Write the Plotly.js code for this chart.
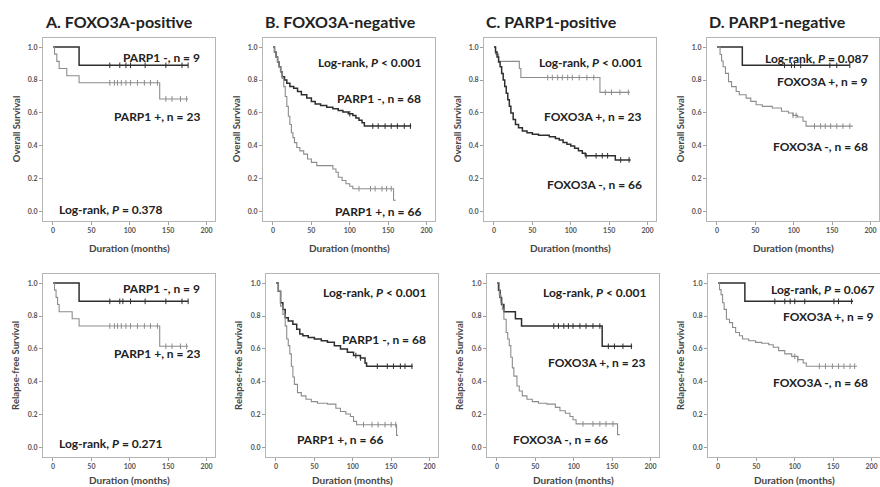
<!DOCTYPE html>
<html><head><meta charset="utf-8">
<script src="https://cdn.plot.ly/plotly-3.0.1.min.js"></script>
<style>html,body{margin:0;padding:0;background:#fff}#chart{width:880px;height:487px}</style>
</head><body><div id="chart"></div>
<script>
// ---------- Data ----------
// Panel titles
const panelTitles = ["A. FOXO3A-positive", "B. FOXO3A-negative", "C. PARP1-positive", "D. PARP1-negative"];
const xTicks = [0, 50, 100, 150, 200];
const yTicks = [0, 0.2, 0.4, 0.6, 0.8, 1.0];

// Top row: Overall Survival
// A: FOXO3A-positive
const osA_dark_t = [0, 34, 176];
const osA_dark_s = [1, 0.889, 0.889];
const osA_dark_c = [74, 87, 95, 101, 120, 147, 168, 176];
const osA_light_t = [0, 2, 5, 8, 18, 34, 139, 176];
const osA_light_s = [1, 0.957, 0.913, 0.870, 0.826, 0.783, 0.685, 0.685];
const osA_light_c = [74, 80, 84, 89, 95, 101, 110, 119, 127, 136, 147, 155, 166, 174];
// B: FOXO3A-negative
const osB_dark_t = [0, 2, 4, 6, 8, 10, 12, 15, 18, 22, 27, 32, 37, 44, 50, 55, 62, 70, 78, 85, 91, 98, 104, 108, 112, 116, 119, 180];
const osB_dark_s = [1, 0.97, 0.94, 0.91, 0.88, 0.85, 0.82, 0.80, 0.78, 0.76, 0.75, 0.73, 0.71, 0.69, 0.67, 0.655, 0.645, 0.635, 0.625, 0.615, 0.605, 0.595, 0.585, 0.57, 0.555, 0.54, 0.52, 0.52];
const osB_dark_c = [100, 130, 137, 146, 154, 162, 171, 179];
const osB_light_t = [0, 2, 4, 6, 8, 10, 12, 14, 16, 18, 20, 22, 24, 26, 28, 31, 35, 40, 45, 50, 57, 78, 82, 85, 90, 95, 100, 104, 157, 160];
const osB_light_s = [1, 0.97, 0.94, 0.91, 0.88, 0.85, 0.81, 0.76, 0.70, 0.64, 0.58, 0.53, 0.48, 0.45, 0.42, 0.39, 0.37, 0.35, 0.32, 0.30, 0.28, 0.26, 0.24, 0.21, 0.19, 0.17, 0.155, 0.14, 0.07, 0.07];
const osB_light_c = [112, 127, 133, 142, 148, 154];
// C: PARP1-positive
const osC_light_t = [0, 2, 6, 33, 35, 138, 177];
const osC_light_s = [1, 0.957, 0.913, 0.87, 0.815, 0.725, 0.725];
const osC_light_c = [70, 76, 83, 89, 96, 102, 111, 121, 130, 145, 153, 164, 175];
const osC_dark_t = [0, 2, 4, 6, 8, 10, 12, 14, 16, 18, 20, 22, 25, 28, 32, 37, 43, 50, 58, 72, 80, 85, 90, 95, 100, 105, 110, 115, 119, 158, 178];
const osC_dark_s = [1, 0.97, 0.94, 0.91, 0.88, 0.84, 0.80, 0.76, 0.72, 0.68, 0.64, 0.60, 0.56, 0.53, 0.51, 0.49, 0.48, 0.47, 0.465, 0.455, 0.445, 0.435, 0.42, 0.41, 0.40, 0.385, 0.37, 0.355, 0.34, 0.315, 0.315];
const osC_dark_c = [120, 133, 141, 148, 165, 176];
// D: PARP1-negative
const osD_dark_t = [0, 33, 173];
const osD_dark_s = [1, 0.889, 0.889];
const osD_dark_c = [88, 97, 101, 109, 147, 156, 173];
const osD_light_t = [0, 4, 6, 8, 11, 15, 19, 25, 29, 38, 44, 51, 59, 72, 84, 93, 99, 105, 112, 116, 177];
const osD_light_s = [1, 0.955, 0.915, 0.88, 0.84, 0.79, 0.76, 0.73, 0.71, 0.69, 0.67, 0.65, 0.64, 0.63, 0.61, 0.60, 0.585, 0.575, 0.55, 0.52, 0.52];
const osD_light_c = [99, 103, 127, 135, 141, 148, 156, 164, 173];

// Bottom row: Relapse-free Survival
const rfsA_dark_t = [0, 34, 176];
const rfsA_dark_s = [1, 0.889, 0.889];
const rfsA_dark_c = [74, 87, 91, 101, 120, 147, 168, 176];
const rfsA_light_t = [0, 2, 4, 6, 8, 25, 34, 139, 176];
const rfsA_light_s = [1, 0.957, 0.913, 0.870, 0.826, 0.783, 0.739, 0.616, 0.616];
const rfsA_light_c = [74, 80, 84, 89, 95, 101, 110, 119, 127, 136, 147, 155, 166, 174];

const rfsB_dark_t = [0, 3, 6, 9, 12, 16, 22, 27, 31, 35, 42, 50, 59, 67, 76, 84, 93, 101, 110, 116, 118, 178];
const rfsB_dark_s = [1, 0.95, 0.88, 0.84, 0.79, 0.77, 0.75, 0.72, 0.69, 0.68, 0.67, 0.66, 0.65, 0.64, 0.62, 0.60, 0.58, 0.56, 0.545, 0.515, 0.495, 0.495];
const rfsB_dark_c = [104, 110, 132, 145, 153, 162, 168, 177];
const rfsB_light_t = [0, 3, 6, 9, 12, 14, 16, 18, 20, 22, 24, 28, 33, 39, 46, 54, 67, 78, 84, 91, 97, 101, 105, 157, 159];
const rfsB_light_s = [1, 0.95, 0.86, 0.81, 0.74, 0.66, 0.62, 0.57, 0.495, 0.43, 0.385, 0.335, 0.315, 0.295, 0.28, 0.27, 0.265, 0.24, 0.22, 0.205, 0.19, 0.16, 0.14, 0.075, 0.075];
const rfsB_light_c = [114, 125, 133, 142, 150, 156];

const rfsC_dark_t = [0, 2, 4, 6, 9, 24, 32, 137, 176];
const rfsC_dark_s = [1, 0.957, 0.913, 0.870, 0.826, 0.783, 0.739, 0.616, 0.616];
const rfsC_dark_c = [74, 80, 87, 93, 99, 108, 116, 125, 134, 145, 153, 164, 175];
const rfsC_light_t = [0, 3, 5, 7, 9, 12, 14, 16, 18, 20, 22, 26, 29, 33, 39, 46, 54, 65, 76, 82, 89, 95, 99, 103, 157, 160];
const rfsC_light_s = [1, 0.93, 0.88, 0.84, 0.78, 0.70, 0.66, 0.62, 0.55, 0.485, 0.435, 0.375, 0.345, 0.315, 0.295, 0.28, 0.27, 0.265, 0.245, 0.225, 0.21, 0.19, 0.17, 0.145, 0.08, 0.08];
const rfsC_light_c = [112, 125, 134, 142, 151];

const rfsD_dark_t = [0, 35, 176];
const rfsD_dark_s = [1, 0.889, 0.889];
const rfsD_dark_c = [74, 87, 94, 100, 113, 151, 157, 174];
const rfsD_light_t = [0, 2, 4, 6, 8, 11, 15, 19, 23, 28, 32, 40, 49, 57, 66, 72, 79, 87, 96, 104, 111, 115, 181];
const rfsD_light_s = [1, 0.96, 0.93, 0.88, 0.84, 0.78, 0.76, 0.73, 0.70, 0.68, 0.66, 0.65, 0.64, 0.635, 0.625, 0.61, 0.59, 0.57, 0.555, 0.535, 0.515, 0.495, 0.495];
const rfsD_light_c = [100, 104, 132, 140, 149, 157, 164, 172, 178];

// Labels per panel
const topLabels = [
  [["PARP1 -, n = 9", 202, 57, "right"], ["PARP1 +, n = 23", 202, 117, "right"], ["Log-rank, <i>P</i> = 0.378", 57, 209, "left"]],
  [["Log-rank, <i>P</i> &lt; 0.001", 423, 62, "right"], ["PARP1 -, n = 68", 423, 99, "right"], ["PARP1 +, n = 66", 423, 211, "right"]],
  [["Log-rank, <i>P</i> &lt; 0.001", 644, 62, "right"], ["FOXO3A +, n = 23", 644, 117, "right"], ["FOXO3A -, n = 66", 644, 184, "right"]],
  [["Log-rank, <i>P</i> = 0.087", 870, 59, "right"], ["FOXO3A +, n = 9", 870, 82, "right"], ["FOXO3A -, n = 68", 870, 146, "right"]]
];
const bottomLabels = [
  [["PARP1 -, n = 9", 202, 288, "right"], ["PARP1 +, n = 23", 202, 353, "right"], ["Log-rank, <i>P</i> = 0.271", 57, 443, "left"]],
  [["Log-rank, <i>P</i> &lt; 0.001", 428, 292, "right"], ["PARP1 -, n = 68", 428, 339, "right"], ["PARP1 +, n = 66", 295, 439, "left"]],
  [["Log-rank, <i>P</i> &lt; 0.001", 648, 292, "right"], ["FOXO3A +, n = 23", 648, 362, "right"], ["FOXO3A -, n = 66", 511, 439, "left"]],
  [["Log-rank, <i>P</i> = 0.067", 876, 289, "right"], ["FOXO3A +, n = 9", 876, 316, "right"], ["FOXO3A -, n = 68", 870, 382, "right"]]
];

// ---------- Build ----------
const W = 880, H = 487;
const DARK = '#2e2e2e', LIGHT = '#8c8c8c';
const FONT = 'Lato, "Open Sans", sans-serif';

const panels = [
  [[osA_dark_t, osA_dark_s, osA_dark_c, DARK], [osA_light_t, osA_light_s, osA_light_c, LIGHT]],
  [[osB_dark_t, osB_dark_s, osB_dark_c, DARK], [osB_light_t, osB_light_s, osB_light_c, LIGHT]],
  [[osC_light_t, osC_light_s, osC_light_c, LIGHT], [osC_dark_t, osC_dark_s, osC_dark_c, DARK]],
  [[osD_dark_t, osD_dark_s, osD_dark_c, DARK], [osD_light_t, osD_light_s, osD_light_c, LIGHT]],
  [[rfsA_dark_t, rfsA_dark_s, rfsA_dark_c, DARK], [rfsA_light_t, rfsA_light_s, rfsA_light_c, LIGHT]],
  [[rfsB_dark_t, rfsB_dark_s, rfsB_dark_c, DARK], [rfsB_light_t, rfsB_light_s, rfsB_light_c, LIGHT]],
  [[rfsC_dark_t, rfsC_dark_s, rfsC_dark_c, DARK], [rfsC_light_t, rfsC_light_s, rfsC_light_c, LIGHT]],
  [[rfsD_dark_t, rfsD_dark_s, rfsD_dark_c, DARK], [rfsD_light_t, rfsD_light_s, rfsD_light_c, LIGHT]]
];

const boxLeftTop = [43, 263, 484, 707];
const boxLeftBot = [43, 266, 487, 708];
const boxW = 172;
const rows = [{T: 37.5, B: 221}, {T: 273.5, B: 457}];

function stepAt(t, s, x) { let v = s[0]; for (let i = 0; i < t.length; i++) { if (t[i] <= x) v = s[i]; } return v; }
const px = v => v / W;
const py = v => 1 - v / H;

const data = [];
const layout = {
  width: W, height: H, margin: {l: 0, r: 0, t: 0, b: 0},
  paper_bgcolor: '#fff', plot_bgcolor: '#fff', showlegend: false,
  font: {family: FONT}, annotations: []
};

panels.forEach((curves, i) => {
  const row = i < 4 ? 0 : 1, col = i % 4;
  const L = row === 0 ? boxLeftTop[col] : boxLeftBot[col];
  const n = i + 1;
  const xa = n === 1 ? 'x' : 'x' + n, ya = n === 1 ? 'y' : 'y' + n;
  curves.forEach(([t, s, c, color]) => {
    const dark = color === DARK;
    data.push({x: t, y: s, xaxis: xa, yaxis: ya, type: 'scatter', mode: 'lines',
      line: {shape: 'hv', color: color, width: dark ? 1.5 : 1.1}, hoverinfo: 'skip'});
    data.push({x: c, y: c.map(v => stepAt(t, s, v)), xaxis: xa, yaxis: ya, type: 'scatter', mode: 'markers',
      marker: {symbol: 'line-ns-open', size: 4, color: color, line: {color: color, width: 1}}, hoverinfo: 'skip'});
  });
  const axCommon = {showline: true, mirror: true, linecolor: '#b5b5b5', linewidth: 1, showgrid: false, zeroline: false,
    ticks: 'outside', ticklen: 3, tickcolor: '#a0a0a0', tickwidth: 1,
    tickfont: {size: 7, color: '#555', family: FONT, weight: 700}};
  layout[n === 1 ? 'xaxis' : 'xaxis' + n] = Object.assign({}, axCommon, {
    domain: [px(L), Math.min(1, px(L + boxW))], anchor: ya, range: [-13, 211], tickvals: xTicks});
  layout[n === 1 ? 'yaxis' : 'yaxis' + n] = Object.assign({}, axCommon, {
    domain: [py(rows[row].B), py(rows[row].T)], anchor: xa, range: [-0.056, 1.058], tickvals: yTicks, tickformat: '.1f'});

  // axis titles
  const y1 = row === 0 ? 46.7 : 283.5, y0 = row === 0 ? 211.7 : 448.3;
  layout.annotations.push({xref: 'paper', yref: 'paper', x: px(L - 27), y: py((y0 + y1) / 2), textangle: -90,
    text: row === 0 ? 'Overall Survival' : 'Relapse-free Survival', showarrow: false, xanchor: 'center', yanchor: 'middle',
    font: {size: 9.5, color: '#444', family: FONT, weight: 700}});
  layout.annotations.push({xref: 'paper', yref: 'paper', x: px(L + boxW / 2), y: py(row === 0 ? 248 : 480),
    text: 'Duration (months)', showarrow: false, xanchor: 'center', yanchor: 'middle',
    font: {size: 10, color: '#444', family: FONT, weight: 700}});
  // panel text labels
  const labs = row === 0 ? topLabels[col] : bottomLabels[col];
  labs.forEach(([txt, x, y, anc]) => {
    layout.annotations.push({xref: 'paper', yref: 'paper', x: px(x), y: py(y), text: txt, showarrow: false,
      xanchor: anc, yanchor: 'middle', font: {size: 12, color: '#222', family: FONT, weight: 700}});
  });
});

// column titles
boxLeftTop.forEach((L, col) => {
  layout.annotations.push({xref: 'paper', yref: 'paper', x: px(L), y: py(21), text: panelTitles[col], showarrow: false,
    xanchor: 'left', yanchor: 'middle', font: {size: 16, color: '#222', family: FONT, weight: 700}});
});

Plotly.newPlot('chart', data, layout, {staticPlot: true});
</script></body></html>
